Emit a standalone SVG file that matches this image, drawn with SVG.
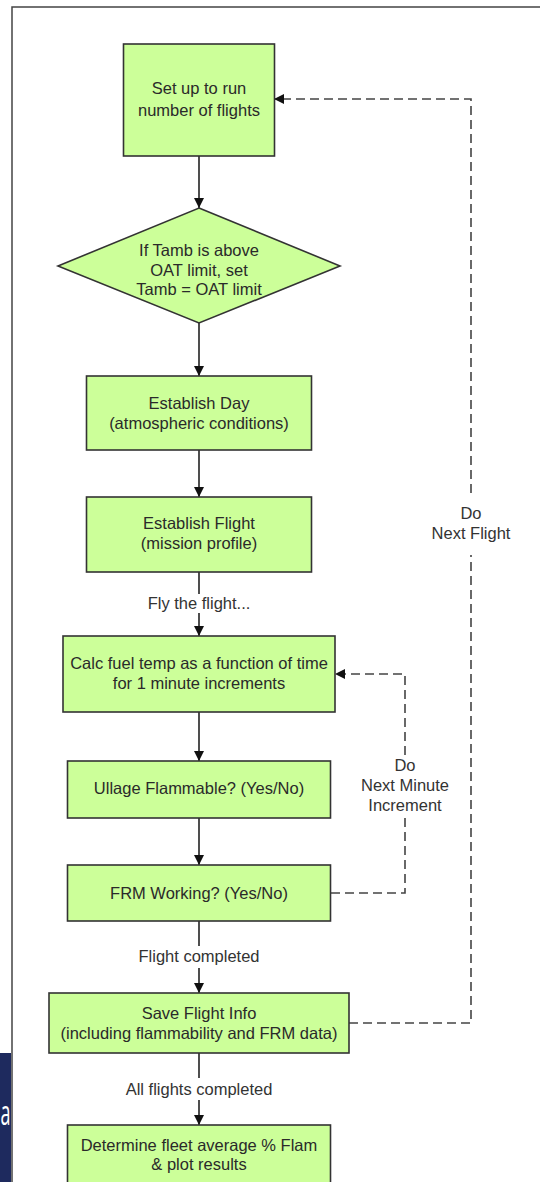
<svg xmlns="http://www.w3.org/2000/svg" width="540" height="1182" viewBox="0 0 540 1182">
<defs>
<style>
.node{fill:#ccff99;stroke:#333;stroke-width:1.6}
.t{font-family:"Liberation Sans",Arial,sans-serif;font-size:16.5px;fill:#2a2a2a;text-anchor:middle}
.lbl{font-family:"Liberation Sans",Arial,sans-serif;font-size:16.5px;fill:#333;text-anchor:middle}
.c{fill:none;stroke:#222;stroke-width:1.6}
.d{fill:none;stroke:#444;stroke-width:1.6;stroke-dasharray:9 5}
</style>
<marker id="ah" markerUnits="userSpaceOnUse" markerWidth="10" markerHeight="10" refX="10" refY="5" orient="auto">
<path d="M0,0 L10,5 L0,10 z" fill="#111"/>
</marker>
</defs>
<rect x="0" y="0" width="540" height="1182" fill="#fff"/>
<rect x="0" y="1053" width="11" height="129" fill="#1e2a5e"/>
<text x="0.5" y="1117" transform="translate(0,-1075) scale(1,1.97)" font-family="'Open Sans',sans-serif" font-size="18" fill="#fff" transform-origin="0 0">a</text>
<path d="M12,1182 V7 H540" fill="none" stroke="#444" stroke-width="1.5"/>

<g id="connectors">
<line class="c" x1="199" y1="156" x2="199" y2="208" marker-end="url(#ah)"/>
<line class="c" x1="199" y1="323" x2="199" y2="376" marker-end="url(#ah)"/>
<line class="c" x1="199" y1="450" x2="199" y2="497" marker-end="url(#ah)"/>
<line class="c" x1="199" y1="572" x2="199" y2="594"/>
<line class="c" x1="199" y1="613" x2="199" y2="636" marker-end="url(#ah)"/>
<text class="lbl" x="199" y="609">Fly the flight...</text>
<line class="c" x1="199" y1="712" x2="199" y2="761" marker-end="url(#ah)"/>
<line class="c" x1="199" y1="818" x2="199" y2="865" marker-end="url(#ah)"/>
<line class="c" x1="199" y1="921" x2="199" y2="946"/>
<line class="c" x1="199" y1="968" x2="199" y2="993" marker-end="url(#ah)"/>
<text class="lbl" x="199" y="962">Flight completed</text>
<line class="c" x1="199" y1="1053" x2="199" y2="1078"/>
<line class="c" x1="199" y1="1100" x2="199" y2="1125" marker-end="url(#ah)"/>
<text class="lbl" x="199" y="1095">All flights completed</text>
<polyline class="d" points="331,893 405,893 405,817"/>
<polyline class="d" points="405,755 405,674 335,674" marker-end="url(#ah)"/>
<text class="lbl" x="405" y="771">Do</text>
<text class="lbl" x="405" y="791">Next Minute</text>
<text class="lbl" x="405" y="811">Increment</text>
<polyline class="d" points="349,1023 471,1023 471,555"/>
<polyline class="d" points="471,493 471,99 274,99" marker-end="url(#ah)"/>
<text class="lbl" x="471" y="519">Do</text>
<text class="lbl" x="471" y="539">Next Flight</text>
</g>

<g id="n1"><rect class="node" x="123.5" y="44" width="151" height="112"/>
<text class="t" x="199" y="94">Set up to run</text><text class="t" x="199" y="116">number of flights</text></g>
<g id="n2"><polygon class="node" points="199,208 340,266 199,323 58,266"/>
<text class="t" x="199" y="256">If Tamb is above</text><text class="t" x="199" y="275.5">OAT limit, set</text><text class="t" x="199" y="295">Tamb = OAT limit</text></g>
<g id="n3"><rect class="node" x="86.5" y="376" width="225" height="74"/>
<text class="t" x="199" y="408.5">Establish Day</text><text class="t" x="199" y="428.5">(atmospheric conditions)</text></g>
<g id="n4"><rect class="node" x="86.5" y="497" width="225" height="75"/>
<text class="t" x="199" y="529">Establish Flight</text><text class="t" x="199" y="549">(mission profile)</text></g>
<g id="n5"><rect class="node" x="63" y="636" width="272" height="76"/>
<text class="t" x="199" y="669">Calc fuel temp as a function of time</text><text class="t" x="199" y="688.5">for 1 minute increments</text></g>
<g id="n6"><rect class="node" x="67.5" y="761" width="263" height="57"/>
<text class="t" x="199" y="794">Ullage Flammable? (Yes/No)</text></g>
<g id="n7"><rect class="node" x="67.5" y="865" width="263" height="56"/>
<text class="t" x="199" y="899">FRM Working? (Yes/No)</text></g>
<g id="n8"><rect class="node" x="49" y="993" width="300" height="60"/>
<text class="t" x="199" y="1019">Save Flight Info</text><text class="t" x="199" y="1039">(including flammability and FRM data)</text></g>
<g id="n9"><rect class="node" x="67.5" y="1125" width="263" height="70"/>
<text class="t" x="199" y="1151">Determine fleet average % Flam</text><text class="t" x="199" y="1170">&amp; plot results</text></g>
</svg>
